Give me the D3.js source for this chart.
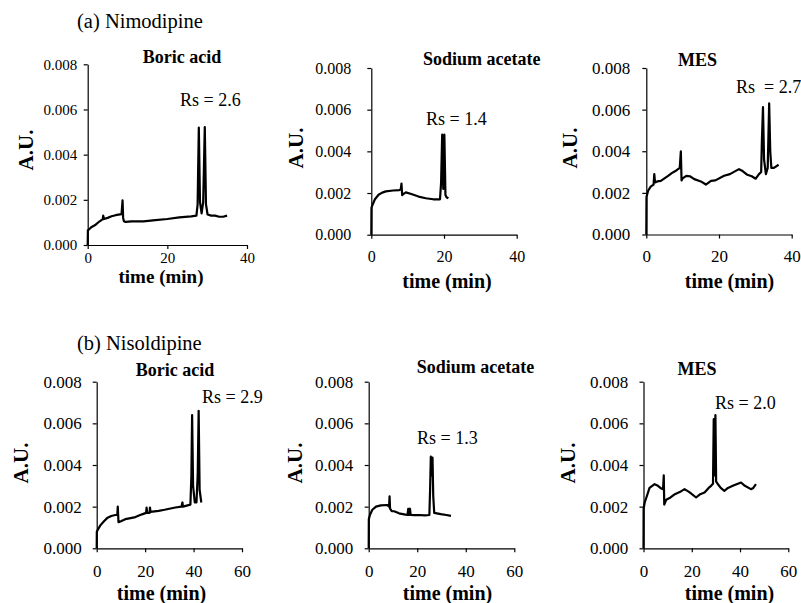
<!DOCTYPE html>
<html>
<head>
<meta charset="utf-8">
<script src="https://cdn.jsdelivr.net/npm/d3@7"></script>
<style>
	body { margin: 0; background: #fff; }
	svg { display: block; }
	svg text { font-family: "Liberation Serif", "DejaVu Serif", "Times New Roman", Times, serif; fill: #000; }
	.trace { fill: none; stroke: #000; stroke-width: 2.2; stroke-linejoin: round; }
	.axis path, .axis line { stroke: #000; stroke-width: 1.2; }
</style>
</head>
<body>
<svg></svg>
<script>
// electropherograms, [time (min), absorbance (A.U.)]
const NIMO_BORIC = [[0,0],[0.05,0.00065],[0.5,0.00072],[1,0.0008],[2,0.0009],[3,0.00105],[3.8,0.00115],[3.9,0.0013],[4.1,0.00115],[5,0.0012],[6,0.00127],[7,0.00132],[8.5,0.00137],[8.75,0.00198],[8.9,0.0012],[9.1,0.00105],[9.5,0.00102],[11,0.00105],[14,0.00105],[17,0.0011],[20,0.00115],[23,0.00122],[26,0.00127],[27.3,0.0013],[27.6,0.0018],[27.9,0.0052],[28.2,0.0019],[28.6,0.0014],[29,0.0019],[29.4,0.00522],[29.7,0.0018],[30.1,0.00135],[31,0.0013],[32,0.0013],[33,0.00125],[34,0.00125],[35,0.0013]];
const NIMO_NAAC = [[0,0],[0.05,0.0013],[0.5,0.0015],[1,0.0017],[2,0.00192],[3,0.00202],[4,0.00208],[6,0.00212],[7.7,0.00214],[8.1,0.00218],[8.3,0.00245],[8.5,0.0019],[8.8,0.00195],[9.5,0.00203],[11,0.00195],[13,0.00183],[15,0.00175],[17,0.0017],[18.9,0.0017],[19.2,0.0025],[19.5,0.0048],[19.8,0.0022],[20.1,0.0048],[20.4,0.0019],[20.7,0.0018],[21.2,0.00175]];
const NIMO_MES = [[0,0],[0.05,0.0018],[0.5,0.0021],[1.2,0.0023],[2,0.0024],[2.2,0.0029],[2.4,0.0025],[3,0.00255],[4,0.00258],[5,0.0027],[6,0.00282],[7,0.00295],[8,0.00305],[9.2,0.0032],[9.5,0.004],[9.7,0.0026],[10,0.0027],[11,0.00282],[12,0.0028],[13.2,0.00266],[15,0.00255],[16.4,0.0024],[17.8,0.00258],[19,0.0026],[21.4,0.00282],[23,0.0029],[25.5,0.00314],[26.5,0.00305],[27.8,0.00287],[29,0.0028],[30.1,0.00268],[31,0.0029],[31.6,0.003],[31.8,0.0045],[32.1,0.00612],[32.4,0.0036],[32.9,0.0029],[33.4,0.0032],[33.8,0.0063],[34.1,0.004],[34.4,0.0032],[35.1,0.0032],[36.4,0.00335]];
const NISO_BORIC = [[0,0],[0.05,0.0008],[0.5,0.0009],[1.5,0.0011],[3,0.0013],[4.3,0.00145],[6,0.00155],[7.7,0.0016],[8.5,0.0016],[8.7,0.002],[9,0.00125],[10,0.0013],[11.8,0.0014],[14,0.00145],[16,0.0015],[18.7,0.00163],[20.4,0.0017],[20.6,0.00196],[20.8,0.0017],[21.8,0.0017],[22,0.00196],[22.2,0.00175],[25.6,0.0018],[28,0.00185],[30,0.0019],[32.5,0.00196],[35,0.002],[35.4,0.0022],[35.6,0.002],[38.7,0.0021],[39.1,0.0035],[39.4,0.0064],[39.8,0.003],[40.5,0.0022],[41.2,0.0022],[41.7,0.0035],[42.1,0.0066],[42.5,0.0028],[43.2,0.0022]];
const NISO_NAAC = [[0,0],[0.05,0.0014],[0.5,0.0016],[1.5,0.00185],[3,0.002],[5,0.00206],[7.7,0.00208],[8.4,0.002],[8.6,0.0025],[8.8,0.0019],[9.5,0.00178],[10.5,0.00178],[12.5,0.00168],[14.6,0.00163],[16,0.0016],[16.3,0.0019],[16.6,0.0016],[17,0.0019],[17.3,0.0016],[18.7,0.00159],[21,0.0016],[23,0.00158],[25,0.0016],[25.3,0.0028],[25.6,0.0044],[25.9,0.0035],[26.3,0.00435],[26.6,0.0025],[27,0.0017],[29.7,0.00164],[32,0.0016],[33.9,0.00156]];
const NISO_MES = [[0,0],[0.05,0.0019],[0.5,0.0022],[1.2,0.00244],[2.5,0.0029],[4.6,0.00308],[6,0.003],[7,0.0029],[8.1,0.00284],[8.4,0.0035],[8.6,0.0021],[9.4,0.00233],[11.2,0.00244],[13,0.0026],[15,0.0027],[17,0.00284],[19,0.0027],[21.8,0.00244],[23.5,0.0026],[25.3,0.00268],[27,0.0029],[28,0.003],[28.8,0.0031],[29.1,0.0062],[29.4,0.0035],[29.8,0.0064],[30.1,0.0032],[30.7,0.0031],[32,0.0029],[33.5,0.00276],[35,0.0029],[37,0.003],[40.4,0.00316],[42,0.003],[44.5,0.00284],[45.5,0.0029],[46.6,0.00308]];

const Y_TICKS = [0, 0.002, 0.004, 0.006, 0.008];
const X_TICKS_A = [0, 20, 40];
const X_TICKS_B = [0, 20, 40, 60];
const BUFFERS = ["Boric acid", "Sodium acetate", "MES"];
const RS_A = ["Rs = 2.6", "Rs = 1.4", "Rs  = 2.7"];
const RS_B = ["Rs = 2.9", "Rs = 1.3", "Rs = 2.0"];
const SECTIONS = ["(a) Nimodipine", "(b) Nisoldipine"];

// pixel layout of each panel (plot box, fonts, label spots)
const W = 801, H = 603;
const panels = [
	{data: NIMO_BORIC, xt: X_TICKS_A, title: BUFFERS[0], rs: RS_A[0], l: 87.7, r: 247, t: 64.3, b: 245, fs: 15, yPad: 6.5, xPad: 3,
		tx: 182, ty: 63, anchor: 'middle', rx: 180, ry: 106, au: [33, 150], tm: [161, 283], tmFs: 19},
	{data: NIMO_NAAC, xt: X_TICKS_A, title: BUFFERS[1], rs: RS_A[1], l: 371.3, r: 516.7, t: 68, b: 234.7, fs: 16, yPad: 16, xPad: 12,
		tx: 423, ty: 65, anchor: 'start', rx: 426, ry: 125, au: [303, 148], tm: [447, 288], tmFs: 20},
	{data: NIMO_MES, xt: X_TICKS_A, title: BUFFERS[2], rs: RS_A[2], l: 646.3, r: 791.7, t: 68, b: 234.5, fs: 17, yPad: 12, xPad: 11,
		tx: 697.5, ty: 66, anchor: 'middle', rx: 736, ry: 93, au: [577, 148], tm: [729.5, 288], tmFs: 20},
	{data: NISO_BORIC, xt: X_TICKS_B, title: BUFFERS[0], rs: RS_B[0], l: 96.7, r: 242, t: 381.7, b: 548.3, fs: 17, yPad: 11, xPad: 13,
		tx: 175, ty: 376, anchor: 'middle', rx: 202, ry: 403, au: [28, 463], tm: [161.5, 600], tmFs: 20},
	{data: NISO_NAAC, xt: X_TICKS_B, title: BUFFERS[1], rs: RS_B[1], l: 368.7, r: 514.3, t: 381.7, b: 548.3, fs: 17, yPad: 11.4, xPad: 13,
		tx: 416.7, ty: 373, anchor: 'start', rx: 417, ry: 444, au: [302, 463], tm: [447.5, 600], tmFs: 20},
	{data: NISO_MES, xt: X_TICKS_B, title: BUFFERS[2], rs: RS_B[2], l: 643.5, r: 788.3, t: 381.7, b: 548.3, fs: 17, yPad: 11.2, xPad: 13,
		tx: 697, ty: 375, anchor: 'middle', rx: 715, ry: 409, au: [575, 463], tm: [729.5, 600], tmFs: 20}
];

const svg = d3.select('svg')
	.attr('width', W)
	.attr('height', H)
	.attr('viewBox', [0, 0, W, H]);

svg.append('rect')
	.attr('width', W)
	.attr('height', H)
	.attr('fill', '#fff');

// section headers
svg.selectAll('text.section')
	.data(SECTIONS)
	.enter()
	.append('text')
		.attr('class', 'section')
		.attr('x', 77)
		.attr('y', (d, i) => i == 0 ? 28 : 350)
		.attr('font-size', 20.5)
		.text(d => d);

panels.forEach(p => {
	const xScale = d3.scaleLinear()
		.domain([0, d3.max(p.xt)])
		.range([p.l, p.r]);
	const yScale = d3.scaleLinear()
		.domain([0, d3.max(Y_TICKS)])
		.range([p.b, p.t]);

	const xAxis = g => g
		.attr('class', 'axis')
		.attr('transform', `translate(0,${p.b})`)
		.call(d3.axisBottom(xScale).tickValues(p.xt).tickFormat(d3.format('d'))
			.tickSizeInner(4).tickSizeOuter(0).tickPadding(p.xPad))
		.call(g => g.attr('font-family', null).selectAll('text').attr('font-size', p.fs));

	const yAxis = g => g
		.attr('class', 'axis')
		.attr('transform', `translate(${p.l},0)`)
		.call(d3.axisLeft(yScale).tickValues(Y_TICKS).tickFormat(d3.format('.3f'))
			.tickSizeInner(4).tickSizeOuter(0).tickPadding(p.yPad))
		.call(g => g.attr('font-family', null).selectAll('text').attr('font-size', p.fs));

	svg.append('g').call(xAxis);
	svg.append('g').call(yAxis);

	const line = d3.line()
		.x(d => xScale(d[0]))
		.y(d => yScale(d[1]));

	svg.append('path')
		.datum(p.data)
		.attr('class', 'trace')
		.attr('d', line);

	// buffer name
	svg.append('text')
		.attr('x', p.tx)
		.attr('y', p.ty)
		.attr('text-anchor', p.anchor)
		.attr('font-weight', 'bold')
		.attr('font-size', 18)
		.text(p.title);

	// resolution label
	svg.append('text')
		.attr('x', p.rx)
		.attr('y', p.ry)
		.attr('font-size', 18)
		.style('white-space', 'pre')
		.text(p.rs);

	svg.append('text')
		.attr('transform', `translate(${p.au[0]},${p.au[1]}) rotate(-90)`)
		.attr('text-anchor', 'middle')
		.attr('font-weight', 'bold')
		.attr('font-size', 21)
		.text('A.U.');

	svg.append('text')
		.attr('x', p.tm[0])
		.attr('y', p.tm[1])
		.attr('text-anchor', 'middle')
		.attr('font-weight', 'bold')
		.attr('font-size', p.tmFs)
		.text('time (min)');
});
</script>
</body>
</html>
